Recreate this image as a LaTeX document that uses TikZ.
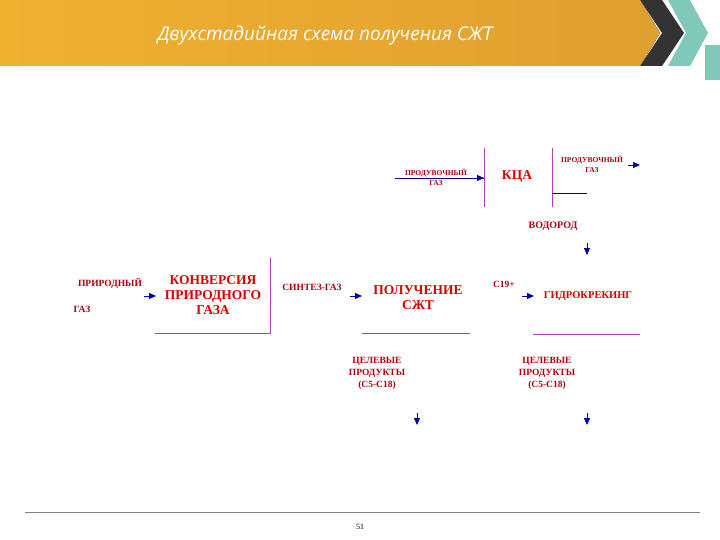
\documentclass[tikz,border=0pt]{standalone}
\usepackage{fontspec}
\setmainfont{Liberation Serif}
\newfontfamily\ttlfont{Open Sans}
\usetikzlibrary{arrows.meta}
\definecolor{lab}{HTML}{B00010}
\definecolor{mag}{HTML}{B040B0}
\definecolor{org}{HTML}{F0B030}
\definecolor{org2}{HTML}{E0A030}
\definecolor{teal1}{HTML}{80C8B8}
\begin{document}
\begin{tikzpicture}[x=1pt,y=-1pt,
 lbl/.style={font=\bfseries\fontsize{9.5}{10}\selectfont,text=lab,align=center,inner sep=0pt},
 big/.style={font=\bfseries\fontsize{13.5}{15}\selectfont,text=red!85!black,align=center,inner sep=0pt},
 frame/.style={draw=mag,line width=0.9pt},
 arr/.style={draw=blue!70!black,line width=0.8pt,-{Triangle[length=7pt,width=6pt]}}]
\useasboundingbox (0,0) rectangle (720,540);
\fill[white] (0,0) rectangle (720,540);
% header
\fill[teal1] (705,45) rectangle (720,80);
\fill[teal1] (668,0) -- (690,0) -- (708,33) -- (690,66) -- (668,66) -- (686,33) -- cycle;
\fill[black!80] (640,0) -- (662,0) -- (684,33) -- (662,66) -- (640,66) -- (662,33) -- cycle;
\fill[left color=org, right color=org2] (0,0) -- (640,0) -- (660,33) -- (640,66) -- (0,66) -- cycle;
\node[font=\ttlfont\itshape\fontsize{19}{22}\selectfont,text=white] (title) at (325,35) {Двухстадийная схема получения СЖТ};
% footer
\draw[gray,line width=0.6pt] (25,512) -- (700,512);
\node[font=\fontsize{8}{9}\selectfont] (pg) at (360,527) {51};
% box 1
\node[big] (b1) at (213,295) {КОНВЕРСИЯ\\ПРИРОДНОГО\\ГАЗА};
\draw[frame] (155,333) -- (270,333) -- (270,258);
\node[lbl] (pg1) at (110,283) {ПРИРОДНЫЙ};
\node[lbl] (pg2) at (82,309) {ГАЗ};
\coordinate (a1s) at (144,296); \coordinate (a1e) at (156,296);
\draw[arr] (a1s) -- (a1e);
\node[lbl] (sg) at (312,287) {СИНТЕЗ-ГАЗ};
\coordinate (a2s) at (350,296); \coordinate (a2e) at (362,296);
\draw[arr] (a2s) -- (a2e);
% box 2
\node[big] (b2) at (418,298) {ПОЛУЧЕНИЕ\\СЖТ};
\draw[frame] (362,333) -- (470,333);
% box 3
\node[lbl] (c19) at (504,284) {С19+};
\coordinate (a3s) at (522,296); \coordinate (a3e) at (534,296);
\draw[arr] (a3s) -- (a3e);
\node[big,font=\bfseries\fontsize{10.5}{12}\selectfont] (b3) at (588,296) {ГИДРОКРЕКИНГ};
\draw[frame] (533,334) -- (640,334);
% KCA
\node[big] (kca) at (517,176) {КЦА};
\draw[frame] (484,148) -- (484,207);
\draw[frame] (552,148) -- (552,207);
\node[lbl,font=\bfseries\fontsize{7.5}{10}\selectfont] (pd1) at (436,177) {ПРОДУВОЧНЫЙ\\ГАЗ};
\coordinate (k1s) at (395,178); \coordinate (k1e) at (484,178);
\draw[draw=blue!60!black,line width=0.7pt] (k1s) -- (k1e);
\draw[arr] (472,178) -- (k1e);
\node[lbl,font=\bfseries\fontsize{7.5}{10}\selectfont] (pd2) at (592,164) {ПРОДУВОЧНЫЙ\\ГАЗ};
\coordinate (k2s) at (628,165); \coordinate (k2e) at (640,165);
\draw[arr] (k2s) -- (k2e);
\coordinate (k3s) at (552,193); \coordinate (k3e) at (587,193);
\draw[draw=blue!60!black,line width=0.7pt] (k3s) -- (k3e);
\node[lbl,font=\bfseries\fontsize{10}{11}\selectfont] (vod) at (553,226) {ВОДОРОД};
\coordinate (v1) at (587,243); \coordinate (v2) at (587,255);
\draw[arr] (v1) -- (v2);
% targets
\node[lbl,font=\bfseries\fontsize{9.5}{12}\selectfont] (t1) at (377,373) {ЦЕЛЕВЫЕ\\ПРОДУКТЫ\\(С5-С18)};
\coordinate (t1a) at (417,413); \coordinate (t1b) at (417,425);
\draw[arr] (t1a) -- (t1b);
\node[lbl,font=\bfseries\fontsize{9.5}{12}\selectfont] (t2) at (547,373) {ЦЕЛЕВЫЕ\\ПРОДУКТЫ\\(С5-С18)};
\coordinate (t2a) at (587,413); \coordinate (t2b) at (587,425);
\draw[arr] (t2a) -- (t2b);
\end{tikzpicture}
\end{document}
